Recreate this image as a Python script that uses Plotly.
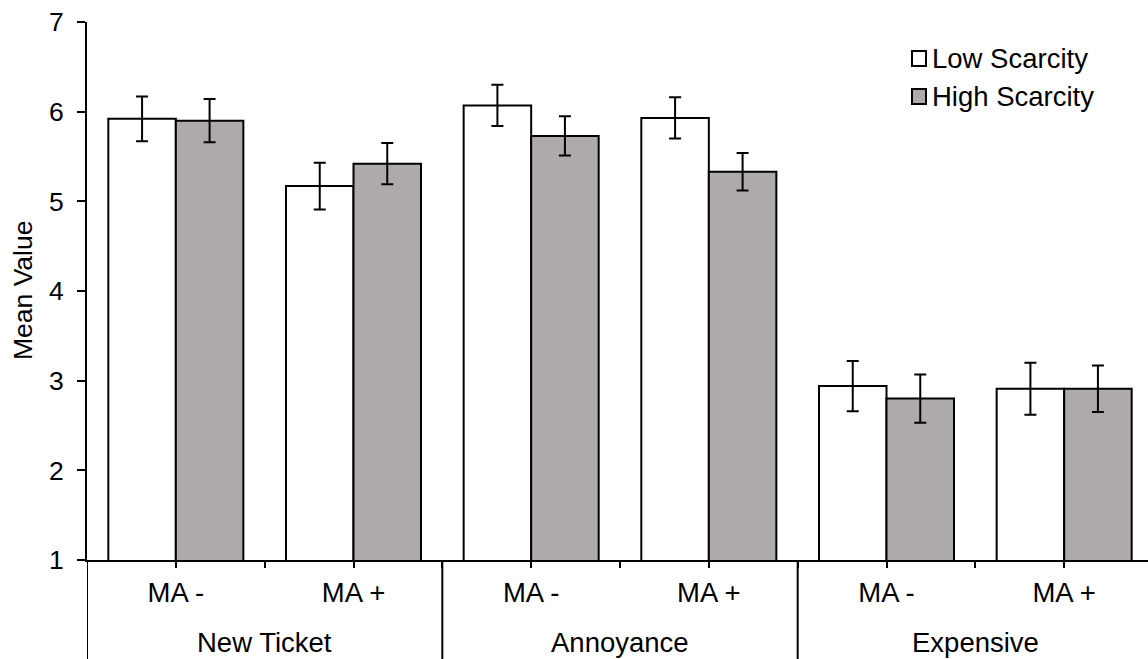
import plotly.graph_objects as go

# Mean values by measure and manipulation condition
groups = ["New Ticket", "Annoyance", "Expensive"]
conditions = ["MA -", "MA +"]
low_scarcity = [5.92, 5.17, 6.07, 5.93, 2.94, 2.91]
high_scarcity = [5.90, 5.42, 5.73, 5.33, 2.80, 2.91]
low_err = [0.25, 0.26, 0.23, 0.23, 0.28, 0.29]
high_err = [0.24, 0.23, 0.22, 0.21, 0.27, 0.26]
y_ticks = [1, 2, 3, 4, 5, 6, 7]

FONT = "Liberation Sans, Arial, sans-serif"
GREY = "#AEAAAA"
W, H = 1148, 659
L, T, B = 87, 22, 99
plot_w, plot_h = W - L, H - T - B
LABEL_SIZE = 27.5

x_pos = list(range(len(groups) * len(conditions)))

fig = go.Figure()
for name, vals, errs, fill in [
    ("Low Scarcity", low_scarcity, low_err, "white"),
    ("High Scarcity", high_scarcity, high_err, GREY),
]:
    fig.add_trace(go.Bar(
        x=x_pos, y=vals, name=name,
        marker=dict(color=fill, line=dict(color="black", width=2)),
        error_y=dict(type="data", array=errs, color="black", thickness=2, width=6),
        showlegend=False,
    ))

# tick marks every half category; labels only under each condition
tick_vals = [i / 2 for i in range(0, 2 * len(x_pos) - 1)]
tick_text = [conditions[int(v) % 2] if v == int(v) else "" for v in tick_vals]

def px_to_paper_y(py):
    return (H - B - py) / plot_h

def px_to_paper_x(px):
    return (px - L) / plot_w

shapes = []
# group separators running down through the category rows
for gx in [-0.5, 1.5, 3.5]:
    shapes.append(dict(type="line", xref="x", yref="paper", x0=gx, x1=gx,
                       y0=0, y1=px_to_paper_y(H), line=dict(color="black", width=2)))

annotations = []
for gi, g in enumerate(groups):
    annotations.append(dict(text=g, x=gi * 2 + 0.5, xref="x", y=px_to_paper_y(642),
                            yref="paper", showarrow=False, xanchor="center", yanchor="middle",
                            font=dict(family=FONT, size=LABEL_SIZE, color="black")))

annotations.append(dict(text="Mean Value", x=px_to_paper_x(23), xref="paper",
                        y=0.5, yref="paper", textangle=-90, showarrow=False,
                        xanchor="center", yanchor="middle",
                        font=dict(family=FONT, size=26.5, color="black")))

# legend swatches and labels
for i, (name, fill) in enumerate([("Low Scarcity", "white"), ("High Scarcity", GREY)]):
    top = 51 + i * 38
    shapes.append(dict(type="rect", xref="paper", yref="paper",
                       x0=px_to_paper_x(912), x1=px_to_paper_x(926),
                       y0=px_to_paper_y(top), y1=px_to_paper_y(top + 15),
                       fillcolor=fill, line=dict(color="black", width=2)))
    annotations.append(dict(text=name, x=px_to_paper_x(930), xref="paper",
                            y=px_to_paper_y(top + 7.5), yref="paper", showarrow=False,
                            xanchor="left", yanchor="middle",
                            font=dict(family=FONT, size=LABEL_SIZE, color="black")))

fig.update_layout(
    width=W, height=H,
    margin=dict(l=L, r=0, t=T, b=B, pad=0),
    paper_bgcolor="white", plot_bgcolor="white",
    barmode="group", bargap=0.24, bargroupgap=0,
    font=dict(family=FONT, size=24, color="black"),
    shapes=shapes, annotations=annotations,
    xaxis=dict(range=[-0.5, 5.5 - 5 / 177.7], tickvals=tick_vals, ticktext=tick_text,
               ticks="outside", ticklen=6, tickwidth=2, tickcolor="black",
               showline=True, linecolor="black", linewidth=2, showgrid=False,
               zeroline=False, tickfont=dict(family=FONT, size=LABEL_SIZE, color="black"),
               ticklabelstandoff=1),
    yaxis=dict(range=[1, 7], tickvals=y_ticks, ticks="outside", ticklen=8, tickwidth=2,
               tickcolor="black", showline=True, linecolor="black", linewidth=2,
               showgrid=False, zeroline=False,
               tickfont=dict(family=FONT, size=26.5, color="black"),
               ticklabelstandoff=8),
)

fig.write_html("out.html")
